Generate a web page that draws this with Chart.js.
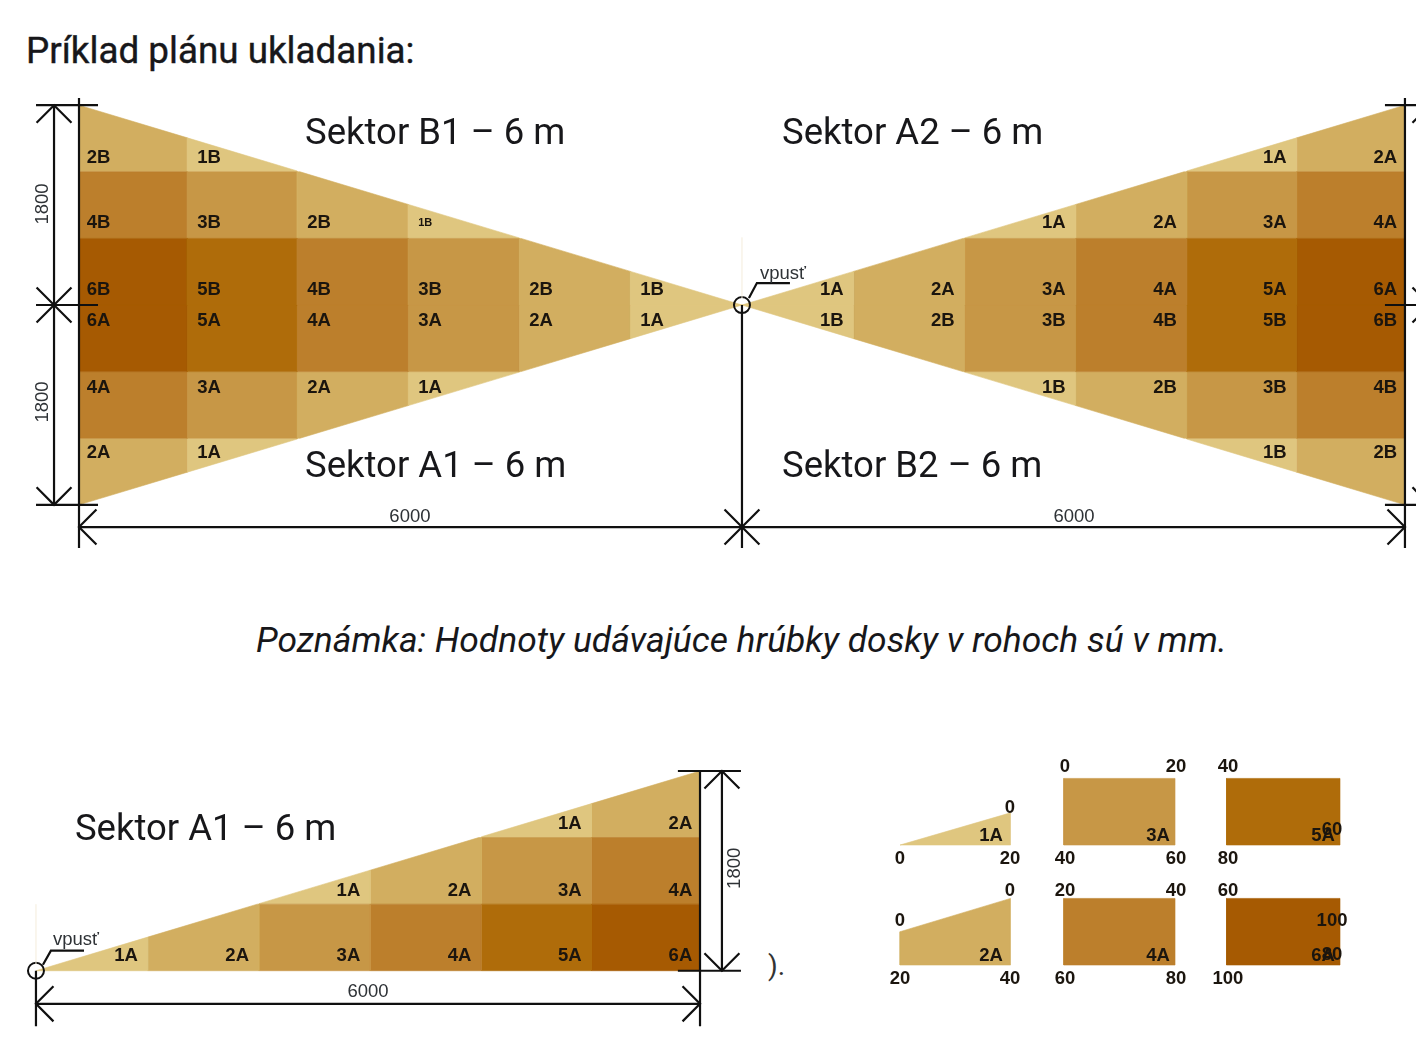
<!DOCTYPE html>
<html lang="sk"><head><meta charset="utf-8">
<script src="https://cdn.jsdelivr.net/npm/chart.js@4"></script>
<style>
html,body{margin:0;padding:0;background:#fff;width:1416px;height:1062px;overflow:hidden}
canvas{position:absolute}
.t{position:absolute;white-space:nowrap;color:#17171a;font-family:Roboto,sans-serif}
</style></head><body>
<div class="t" style="left:26px;top:30px;font-size:36.8px;line-height:42px;-webkit-text-stroke:0.4px #17171a">Príklad plánu ukladania:</div>
<div class="t" style="left:256px;top:619px;font-size:35.4px;line-height:42px;font-style:italic">Poznámka: Hodnoty udávajúce hrúbky dosky v rohoch sú v mm.</div>
<div class="t" style="left:768px;top:950px;font-size:28px;line-height:32px;color:#333">).</div>
<canvas id="plan" width="1416" height="470" style="left:0;top:90px"></canvas>
<canvas id="sector" width="760" height="280" style="left:0;top:760px"></canvas>
<canvas id="tiles" width="480" height="245" style="left:880px;top:750px"></canvas>
<script>
// ---- values (millimetres unless noted) ----
const columnEdges = [0, 1010, 2015, 3020, 4025, 5020, 6000];
const rowEdges = [0, 600, 1200, 1800];
const slabRows = [
  [1, 2, 3, 4, 5, 6],
  [0, 0, 1, 2, 3, 4],
  [0, 0, 0, 0, 1, 2]
];
const shades = ['#DFC67F', '#D2AE60', '#C79746', '#BC7F2C', '#AF6C0A', '#A65A02'];
const slope = 0.3;
const halfSpan = 6000;
const halfHeight = 1800;
const spanLabel = '6000';
const heightLabel = '1800';
const drainLabel = 'vpusť';
const sectorTitles = ['Sektor B1 – 6 m', 'Sektor A1 – 6 m', 'Sektor A2 – 6 m', 'Sektor B2 – 6 m'];
const soloTitle = 'Sektor A1 – 6 m';
const tileNames = ['1A', '2A', '3A', '4A', '5A', '6A'];
const tileCornerValues = ['0','0','20', '0','0','20','40', '0','20','40','60', '20','40','60','80', '40','60','80', '60','100','80','100'];

const INK = '#101010', DIM = '#2e3236', LABEL = '#1b150e';
const BOLD = 'bold 18.5px "Liberation Sans"';
const REG = '18.5px "Liberation Sans"';
const TITLE = '36.5px Roboto';
const INSET_UP = [153, 153, 136], INSET_DOWN = [127, 136, 118], INSET_SOLO = [144, 136, 136];

function poly(points, color, order = 2) {
  return { data: points, showLine: true, fill: 'shape', backgroundColor: color, borderColor: color, borderWidth: 0.6, pointRadius: 0, order };
}
function line(points, color = INK, width = 2.2) {
  return { data: points, showLine: true, fill: false, borderColor: color, borderWidth: width, pointRadius: 0, order: 0 };
}
const P = (x, y) => ({ x, y });
const seg = (x1, y1, x2, y2, c, w) => line([P(x1, y1), P(x2, y2)], c, w);
const WING = 158;
const vArrow = (x, y, d) => line([P(x - WING, y - d * WING), P(x, y), P(x + WING, y - d * WING)]);
const hArrow = (x, y, d) => line([P(x - d * WING, y - WING), P(x, y), P(x - d * WING, y + WING)]);
const drain = (x, y) => ({ data: [P(x, y)], showLine: false, pointStyle: 'circle', pointRadius: 8, pointBorderWidth: 2, pointBackgroundColor: 'rgba(0,0,0,0)', pointBorderColor: INK, order: 0 });

// wedge cells of one quadrant, mirrored by sx / sy
function wedgeCells(sx, sy, letter, smallName, insets, out, texts) {
  slabRows.forEach((row, r) => {
    row.forEach((n, c) => {
      if (!n) return;
      const x0 = columnEdges[c], x1 = columnEdges[c + 1], y0 = rowEdges[r], y1 = rowEdges[r + 1];
      const pts = [];
      const top0 = slope * x0, top1 = slope * x1;
      if (top0 > y0) { pts.push(P(x0, y0), P(x0, Math.min(top0, y1))); } else { pts.push(P(x0 + 0, y0)); }
      if (top1 > y1) pts.push(P(y1 / slope > x0 ? y1 / slope : x0, y1));
      pts.push(P(x1, y1 < top1 ? y1 : top1), P(x1, y0), pts[0]);
      out.push(poly(pts.map(p => P(sx * p.x, sy * p.y)), shades[n - 1]));
      const inset = c === 5 ? 70 : 90;
      const name = n + letter;
      const small = r === 1 && name === smallName;
      texts.push({
        t: name,
        x: sx * (x1 - inset),
        y: sy * (y0 + insets[r]),
        font: small ? 'bold 11px "Liberation Sans"' : BOLD,
        align: sx < 0 ? 'left' : 'right',
        color: LABEL
      });
    });
  });
}

const textPlugin = {
  id: 'texts',
  afterDatasetsDraw(chart) {
    const { ctx, scales: { x, y } } = chart;
    (chart.config.options.panelTexts || []).forEach(k => {
      ctx.save();
      ctx.translate(x.getPixelForValue(k.x), y.getPixelForValue(k.y));
      if (k.rot) ctx.rotate(k.rot);
      ctx.font = k.font; ctx.fillStyle = k.color || LABEL;
      ctx.textAlign = k.align || 'center'; ctx.textBaseline = 'middle';
      ctx.fillText(k.t, 0, 1.5);
      ctx.restore();
    });
  }
};

function draw(id, datasets, texts, xr, yr) {
  new Chart(document.getElementById(id), {
    type: 'scatter',
    data: { datasets },
    options: {
      responsive: false, animation: false, events: [], panelTexts: texts,
      layout: { padding: 0, autoPadding: false },
      plugins: { legend: { display: false }, tooltip: { enabled: false }, title: { display: false } },
      scales: {
        x: { type: 'linear', display: false, min: xr[0], max: xr[1] },
        y: { type: 'linear', display: false, min: yr[0], max: yr[1] }
      }
    },
    plugins: [textPlugin]
  });
}

// ---- top plan ----
(function () {
  const ds = [], tx = [];
  wedgeCells(-1, 1, 'B', '1B', INSET_UP, ds, tx);
  wedgeCells(-1, -1, 'A', '', INSET_DOWN, ds, tx);
  wedgeCells(1, 1, 'A', '', INSET_UP, ds, tx);
  wedgeCells(1, -1, 'B', '', INSET_DOWN, ds, tx);
  const S = halfSpan, H = halfHeight;
  [-S, 0, S].forEach((x, i) => ds.push(seg(x, i === 1 ? 0 : 1865, x, -2189)));
  ds.push(seg(0, 60, 0, 610, '#f4ecdc', 1));
  [H, 0, -H].forEach(y => { ds.push(seg(-6389, y, -5828, y)); ds.push(seg(5819, y, 6500, y)); });
  [-6226, 6226].forEach(x => {
    ds.push(seg(x, H, x, -H));
    ds.push(vArrow(x, H, 1), vArrow(x, 0, -1), vArrow(x, 0, 1), vArrow(x, -H, -1));
  });
  ds.push(seg(-S, -2000, S, -2000));
  ds.push(hArrow(-S, -2000, -1), hArrow(0, -2000, 1), hArrow(0, -2000, -1), hArrow(S, -2000, 1));
  ds.push(drain(0, 0));
  ds.push(line([P(63, 63), P(135, 198), P(434, 198)]));
  tx.push({ t: sectorTitles[0], x: -3955, y: 1545, font: TITLE, align: 'left', color: '#17171a' });
  tx.push({ t: sectorTitles[1], x: -3955, y: -1455, font: TITLE, align: 'left', color: '#17171a' });
  tx.push({ t: sectorTitles[2], x: 362, y: 1545, font: TITLE, align: 'left', color: '#17171a' });
  tx.push({ t: sectorTitles[3], x: 362, y: -1455, font: TITLE, align: 'left', color: '#17171a' });
  tx.push({ t: drainLabel, x: 371, y: 297, font: REG, color: DIM });
  tx.push({ t: spanLabel, x: -3005, y: -1892, font: REG, color: DIM });
  tx.push({ t: spanLabel, x: 3005, y: -1892, font: REG, color: DIM });
  tx.push({ t: heightLabel, x: -6344, y: 910, font: REG, color: DIM, rot: -Math.PI / 2 });
  tx.push({ t: heightLabel, x: -6344, y: -874, font: REG, color: DIM, rot: -Math.PI / 2 });
  draw('plan', ds, tx, [-6715, 6100], [-2297, 1937]);
})();

// ---- single sector ----
(function () {
  const ds = [], tx = [];
  wedgeCells(1, 1, 'A', '', INSET_SOLO, ds, tx);
  const S = halfSpan, H = halfHeight;
  ds.push(seg(0, 0, 0, -500), seg(S, H, S, -500));
  ds.push(seg(0, 60, 0, 600, '#f4ecdc', 1));
  [H, 0].forEach(y => ds.push(seg(5800, y, 6370, y)));
  ds.push(seg(6198, H, 6198, 0), vArrow(6198, H, 1), vArrow(6198, 0, -1));
  ds.push(seg(0, -298, S, -298), hArrow(0, -298, -1), hArrow(S, -298, 1));
  ds.push(drain(0, 0));
  ds.push(line([P(63, 54), P(135, 181), P(434, 181)]));
  tx.push({ t: soloTitle, x: 352, y: 1272, font: TITLE, align: 'left', color: '#17171a' });
  tx.push({ t: drainLabel, x: 361, y: 289, font: REG, color: DIM });
  tx.push({ t: spanLabel, x: 3000, y: -181, font: REG, color: DIM });
  tx.push({ t: heightLabel, x: 6298, y: 923, font: REG, color: DIM, rot: -Math.PI / 2 });
  draw('sector', ds, tx, [-325, 6542], [-624, 1899]);
})();

// ---- detail tiles ----
(function () {
  const ds = [], tx = [];
  const L = [0, 1482, 2955], R = [1000, 2489, 3982];
  const up = 1081, tall = 600;
  ds.push(poly([P(L[0], up), P(R[0], up), P(R[0], up + 290), P(L[0], up)], shades[0]));
  ds.push(poly([P(L[0], 0), P(R[0], 0), P(R[0], tall), P(L[0], 300), P(L[0], 0)], shades[1]));
  const rect = (i, b, c) => ds.push(poly([P(L[i], b), P(R[i], b), P(R[i], b + tall), P(L[i], b + tall), P(L[i], b)], shades[c]));
  rect(1, up, 2); rect(1, 0, 3); rect(2, up, 4); rect(2, 0, 5);
  const nameAt = [[824, 1180], [824, 99], [2335, 1180], [2335, 99], [3828, 1180], [3828, 99]];
  tileNames.forEach((t, i) => tx.push({ t, x: nameAt[i][0], y: nameAt[i][1], font: BOLD, color: LABEL }));
  const at = [
    [995, 1432], [0, 973], [995, 973],
    [995, 685], [0, 414], [0, -108], [995, -108],
    [1493, 1802], [2498, 1802], [1493, 973], [2498, 973],
    [1493, 685], [2498, 685], [1493, -108], [2498, -108],
    [2968, 1802], [3910, 1234], [2968, 973],
    [2968, 685], [3910, 414], [3910, 108], [2968, -108]
  ];
  tileCornerValues.forEach((t, i) => tx.push({ t, x: at[i][0], y: at[i][1], font: BOLD, color: LABEL }));
  draw('tiles', ds, tx, [-181, 4163], [-270, 1937]);
})();
</script>
</body></html>
